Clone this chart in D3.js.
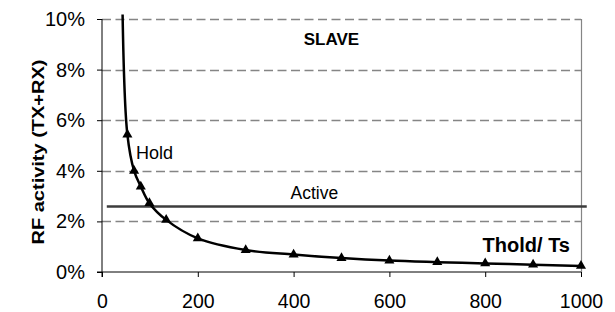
<!DOCTYPE html>
<html>
<head>
<meta charset="utf-8">
<script src="https://cdn.jsdelivr.net/npm/d3@7"></script>
<style>
  html, body { margin: 0; padding: 0; background: #fff; }
  svg { display: block; }
  text { font-family: "Liberation Sans", Arial, Helvetica, sans-serif; fill: #000; }
</style>
</head>
<body>
<svg id="chart" width="615" height="312"></svg>
<script>
// ---- data ----
const curveX = [43, 53, 67, 81, 99, 134, 200, 300, 400, 500, 600, 700, 800, 900, 1000];
const curveY = [10.18, 5.43, 4.0, 3.38, 2.72, 2.06, 1.33, 0.87, 0.69, 0.55, 0.45, 0.39, 0.34, 0.29, 0.24];
const markedFromIndex = 1; // first curve point has no marker
const activeX = [10, 1012];
const activeY = 2.59;
const xTicks = [0, 200, 400, 600, 800, 1000];
const yTicks = [0, 2, 4, 6, 8, 10];
const yGrid = [2, 4, 6, 8, 10];
const titleY = "RF activity (TX+RX)";
const titleChart = "SLAVE";
const labelHold = "Hold";
const labelActive = "Active";
const labelX = "Thold/ Ts";

// ---- layout ----
const svg = d3.select("#chart");
const x = d3.scaleLinear().domain([0, 1000]).range([102, 581]);
const y = d3.scaleLinear().domain([0, 10]).range([272, 19]);

// gridlines
svg.append("g").selectAll("line").data(yGrid).join("line")
  .attr("x1", x(0)).attr("x2", x(1000))
  .attr("y1", d => Math.round(y(d)) + 0.5).attr("y2", d => Math.round(y(d)) + 0.5)
  .attr("stroke", "#858585").attr("stroke-width", 1.3)
  .attr("stroke-dasharray", "9,4.5");

// right border
svg.append("line")
  .attr("x1", x(1000) + 0.5).attr("x2", x(1000) + 0.5)
  .attr("y1", y(10)).attr("y2", y(0))
  .attr("stroke", "#858585").attr("stroke-width", 1.2);

// axes
const yAxis = d3.axisLeft(y).tickValues(yTicks).tickSize(5).tickPadding(12)
  .tickFormat(d => d + "%");
const gy = svg.append("g").attr("transform", `translate(${x(0)},0)`).call(yAxis);
gy.select(".domain").attr("d", `M0,${y(10)}V${y(0) + 5}`);
gy.selectAll("text").style("font-size", "20px").attr("fill", "#000");

const xAxis = d3.axisBottom(x).tickValues(xTicks).tickSize(5).tickPadding(17)
  .tickFormat(d3.format("d"));
const gx = svg.append("g").attr("transform", `translate(0,${y(0)})`).call(xAxis);
gx.select(".domain").attr("d", `M${x(0) - 5},0H${x(1000)}`);
gx.selectAll("text").style("font-size", "19.5px").attr("fill", "#000");

// active line
svg.append("line")
  .attr("x1", x(activeX[0])).attr("x2", x(activeX[1]))
  .attr("y1", y(activeY)).attr("y2", y(activeY))
  .attr("stroke", "#3c3c3c").attr("stroke-width", 2.6);

// curve
const pts = curveX.map((v, i) => [v, curveY[i]]);
const line = d3.line().x(d => x(d[0])).y(d => y(d[1])).curve(d3.curveCatmullRom.alpha(0.5));
svg.append("path").datum(pts)
  .attr("d", line)
  .attr("fill", "none").attr("stroke", "#000").attr("stroke-width", 2.5);

// markers
const tri = d3.symbol().type(d3.symbolTriangle).size(44);
svg.append("g").selectAll("path").data(pts.slice(markedFromIndex)).join("path")
  .attr("d", tri)
  .attr("transform", d => `translate(${x(d[0])},${y(d[1])})`)
  .attr("fill", "#000");

// texts
svg.append("text").text(titleChart)
  .attr("x", 331.5).attr("y", 45).attr("text-anchor", "middle")
  .style("font-size", "17px").style("font-weight", "bold");
svg.append("text").text(labelHold)
  .attr("x", 136).attr("y", 159)
  .style("font-size", "18px");
svg.append("text").text(labelActive)
  .attr("x", 290.5).attr("y", 199)
  .style("font-size", "17.5px");
svg.append("text").text(labelX)
  .attr("x", 570).attr("y", 252).attr("text-anchor", "end")
  .style("font-size", "20px").style("font-weight", "bold");
svg.append("text").text(titleY)
  .attr("text-anchor", "middle")
  .attr("transform", "translate(44,152) rotate(-90) scale(1,0.78)")
  .style("font-size", "20px").style("font-weight", "bold");
</script>
</body>
</html>
